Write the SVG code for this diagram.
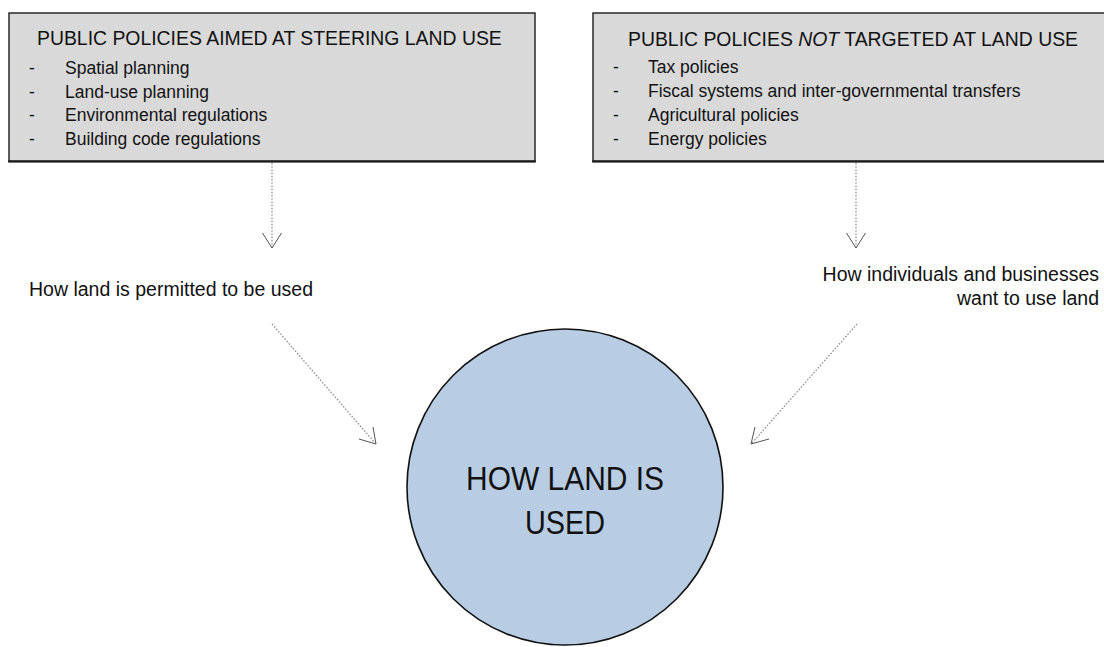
<svg xmlns="http://www.w3.org/2000/svg" width="1104" height="647" viewBox="0 0 1104 647">
  <style>
    .box { fill: #d9d9d9; stroke: #1a1a1a; stroke-width: 1.4; }
    .edge { stroke: #1a1a1a; stroke-width: 2.2; }
    .title { font-family: "Liberation Sans", Arial, sans-serif; font-size: 19.4px; fill: #111; }
    .item { font-family: "Liberation Sans", Arial, sans-serif; font-size: 17.5px; fill: #111; }
    .label { font-family: "Liberation Sans", Arial, sans-serif; font-size: 19.5px; fill: #111; }
    .big { font-family: "Liberation Sans", Arial, sans-serif; font-size: 34px; fill: #111; }
    .dot { fill: none; stroke: #8a8a8a; stroke-width: 1.2; stroke-dasharray: 1.6 1.6; }
    .head { fill: none; stroke: #555; stroke-width: 1; }
  </style>

  <!-- policy box: land-use steering -->
  <g id="steering-policies">
    <rect class="box" x="9" y="13" width="526" height="148.5"/>
    <line class="edge" x1="8.3" y1="161.3" x2="535.7" y2="161.3"/>
    <text class="title" x="37" y="45">PUBLIC POLICIES AIMED AT STEERING LAND USE</text>
    <g class="item">
      <text x="29" y="74">-</text><text x="65" y="74">Spatial planning</text>
      <text x="29" y="97.5">-</text><text x="65" y="97.5">Land-use planning</text>
      <text x="29" y="121">-</text><text x="65" y="121">Environmental regulations</text>
      <text x="29" y="145">-</text><text x="65" y="145">Building code regulations</text>
    </g>
  </g>

  <!-- policy box: not targeted at land use -->
  <g id="other-policies">
    <rect class="box" x="593" y="13" width="520" height="148.5"/>
    <line class="edge" x1="592.3" y1="161.3" x2="1110" y2="161.3"/>
    <text class="title" x="628" y="46"><tspan>PUBLIC POLICIES </tspan><tspan font-style="italic">NOT</tspan><tspan> TARGETED AT LAND USE</tspan></text>
    <g class="item">
      <text x="613" y="73">-</text><text x="648" y="73">Tax policies</text>
      <text x="613" y="96.5">-</text><text x="648" y="96.5">Fiscal systems and inter-governmental transfers</text>
      <text x="613" y="120.5">-</text><text x="648" y="120.5">Agricultural policies</text>
      <text x="613" y="145">-</text><text x="648" y="145">Energy policies</text>
    </g>
  </g>

  <!-- intermediate labels -->
  <g id="permitted-use">
    <text class="label" x="29" y="296">How land is permitted to be used</text>
  </g>
  <g id="desired-use">
    <text class="label" x="1099" y="281" text-anchor="end">How individuals and businesses</text>
    <text class="label" x="1099" y="305" text-anchor="end">want to use land</text>
  </g>

  <!-- central outcome -->
  <g id="land-use">
    <circle cx="565" cy="487" r="158" fill="#b8cce4" stroke="#111" stroke-width="1.6"/>
    <text class="big" x="565" y="490" text-anchor="middle" textLength="198" lengthAdjust="spacingAndGlyphs">HOW LAND IS</text>
    <text class="big" x="565" y="534" text-anchor="middle" textLength="80" lengthAdjust="spacingAndGlyphs">USED</text>
  </g>

  <!-- connectors: dotted shafts with open heads -->
  <g id="connectors">
    <line class="dot" x1="272" y1="163" x2="272" y2="247"/>
    <polyline class="head" points="262.5,233 272,248 281.5,233"/>

    <line class="dot" x1="856" y1="163" x2="856" y2="247"/>
    <polyline class="head" points="846.5,233 856,248 865.5,233"/>

    <line class="dot" x1="272" y1="324" x2="375" y2="443"/>
    <polyline class="head" points="359,439 376,444 373,427"/>

    <line class="dot" x1="857" y1="324" x2="752" y2="443"/>
    <polyline class="head" points="769,439 751,444 755,427"/>
  </g>
</svg>
